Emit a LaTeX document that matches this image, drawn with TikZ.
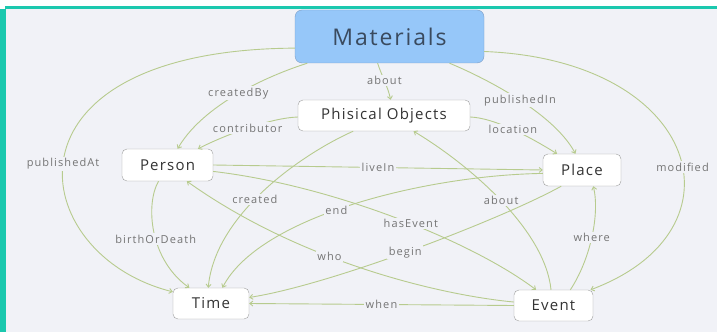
\documentclass[tikz,border=0pt]{standalone}
\usepackage{fontspec}
\setmainfont{Open Sans}
\newfontfamily\lblfont[LetterSpace=10]{Open Sans}
\newfontfamily\boxfont[LetterSpace=8]{Open Sans}
\usetikzlibrary{arrows.meta}
\definecolor{canvas}{HTML}{F1F2F7}
\definecolor{frame}{HTML}{1BC8AE}
\definecolor{link}{HTML}{B7CB8E}
\definecolor{lbltext}{HTML}{747474}
\definecolor{matfill}{HTML}{96C7F9}
\definecolor{matline}{HTML}{7D9DC4}
\definecolor{boxline}{HTML}{9E9E9E}
\begin{document}
\begin{tikzpicture}[x=1pt,y=1pt,
  box/.style={draw=boxline,fill=white,rounded corners=5pt,inner sep=0pt,
    text=black!80,font=\boxfont\fontsize{15}{15}\selectfont},
  matbox/.style={box,draw=matline,fill=matfill,rounded corners=7pt,
    text={rgb,255:red,58;green,74;blue,94},font=\boxfont\fontsize{23}{23}\selectfont},
  link/.style={draw=link,line width=0.9pt,-{Straight Barb[length=3pt,width=5pt]}},
  lbl/.style={fill=canvas,inner sep=1.5pt,text=lbltext,font=\lblfont\fontsize{11}{11}\selectfont}]
\useasboundingbox (0,0) rectangle (717,332);
\fill[white] (0,0) rectangle (717,332);
\fill[canvas] (6,0) rectangle (717,323);
\fill[frame] (0,0) rectangle (6,323);
\fill[frame] (5,323) rectangle (717,325.5);
\node[matbox,minimum width=189,minimum height=53] (mat) at (389.5,295.5) {Materials};
\node[box,minimum width=172,minimum height=31] (phys) at (384,216.5) {Phisical Objects};
\node[box,minimum width=91,minimum height=32] (per) at (167.5,167) {Person};
\node[box,minimum width=78,minimum height=32] (place) at (582,162) {Place};
\node[box,minimum width=76,minimum height=31] (time) at (211,28.5) {Time};
\node[box,minimum width=79,minimum height=31] (event) at (553.5,26.5) {Event};
\draw[link] (mat.198) .. controls (255,252) and (200,222) .. node[lbl,pos=0.45] {createdBy} (per.58);
\draw[link] (mat.246) .. controls (381,258) and (388,245) .. node[lbl] {about} (phys.67);
\draw[link] (mat.336) .. controls (490,252) and (555,217) .. node[lbl] {publishedIn} (place.112);
\draw[link] (mat.187) .. controls (-10,282) and (25,77) .. node[lbl,pos=0.52] {publishedAt} (time.163);
\draw[link] (mat.351) .. controls (700,272) and (750,102) .. node[lbl,pos=0.55] {modified} (event.23);
\draw[link] (phys.181) .. controls (270,214) and (225,197) .. node[lbl] {contributor} (per.28);
\draw[link] (phys.359) .. controls (495,214) and (530,195) .. node[lbl] {location} (place.147);
\draw[link] (phys.207) .. controls (300,177) and (215,117) .. node[lbl,pos=0.55] {created} (time.100);
\draw[link] (per.east) -- node[lbl] {liveIn} (place.west);
\draw[link] (per.241) .. controls (145,127) and (150,72) .. node[lbl,pos=0.55] {birthOrDeath} (time.144);
\draw[link] (per.352) .. controls (330,147) and (470,92) .. node[lbl,pos=0.55] {hasEvent} (event.138);
\draw[link] (place.185) .. controls (430,157) and (260,117) .. node[lbl,pos=0.55] {end} (time.54);
\draw[link] (place.218) .. controls (500,112) and (330,47) .. node[lbl,pos=0.52] {begin} (time.9);
\draw[link] (event.175) .. controls (440,37) and (300,70) .. node[lbl,pos=0.6] {who} (per.320);
\draw[link] (event.99) .. controls (545,102) and (470,167) .. node[lbl] {about} (phys.332);
\draw[link] (event.43) .. controls (590,72) and (600,117) .. node[lbl] {where} (place.305);
\draw[link] (event.west) -- node[lbl] {when} (time.east);
\end{tikzpicture}
\end{document}
